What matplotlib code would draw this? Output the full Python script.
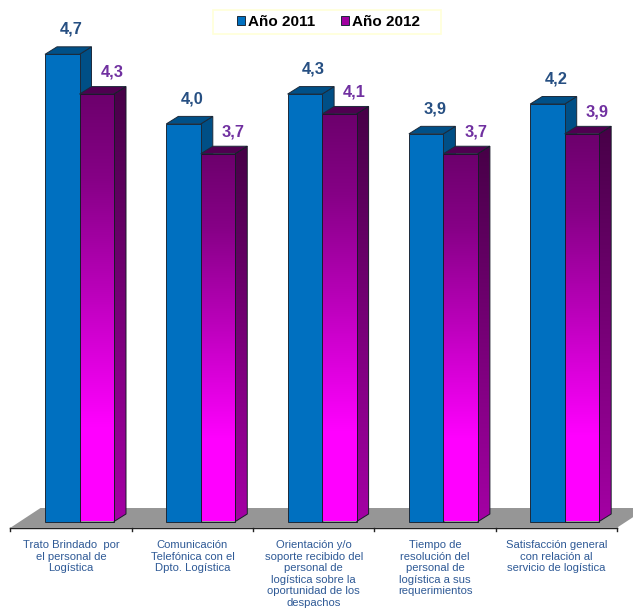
#!/usr/bin/env python3

import numpy as np
import matplotlib.pyplot as plt
from matplotlib.colors import LinearSegmentedColormap
from matplotlib.patches import Patch, Polygon, Rectangle

plt.rcParams['font.family'] = ['Liberation Sans', 'DejaVu Sans']

categories = [
	'Trato Brindado  por\nel personal de\nLogística',
	'Comunicación\nTelefónica con el\nDpto. Logística',
	'Orientación y/o\nsoporte recibido del\npersonal de\nlogística sobre la\noportunidad de los\ndespachos',
	'Tiempo de\nresolución del\npersonal de\nlogística a sus\nrequerimientos',
	'Satisfacción general\ncon relación al\nservicio de logística',
]
anio_2011 = [4.7, 4.0, 4.3, 3.9, 4.2]
anio_2012 = [4.3, 3.7, 4.1, 3.7, 3.9]

W, H = 633, 608
GROUP = 121.3
PX_PER_UNIT = 99.4
BASE = 521.5
LEFT = 10.5

fig = plt.figure(figsize=(W / 100, H / 100), dpi=100)
ax = fig.add_axes([0, 0, 1, 1])
ax.set_xlim(-LEFT / GROUP, (W - LEFT) / GROUP)
ax.set_ylim(-(H - BASE) / PX_PER_UNIT, BASE / PX_PER_UNIT)
ax.axis('off')

# depth of the 3d look, in axis units
DX = 12 / GROUP
DY = 7.5 / PX_PER_UNIT
BAR_W = 34.5 / GROUP
BAR_X0 = 34.5 / GROUP

front_purple = LinearSegmentedColormap.from_list('fp', [(0, '#6c006c'), (0.2, '#860086'), (0.45, '#b800b8'), (0.78, '#ff00ff'), (1, '#ff00ff')])
side_purple = LinearSegmentedColormap.from_list('sp', ['#470047', '#a400a4'])
ramp = np.linspace(0, 1, 256).reshape(-1, 1)

# floor
floor_y0 = -6.2 / PX_PER_UNIT
floor_y1 = 13.5 / PX_PER_UNIT
floor = Polygon([(0, floor_y0), (5, floor_y0), (5 + 30 / GROUP, floor_y1), (30 / GROUP, floor_y1)],
	closed=True, fc='#969696', ec='none', zorder=1)
ax.add_patch(floor)
ax.plot([0, 5], [floor_y0, floor_y0], color='#222222', lw=1, zorder=2)
for t in range(6):
	ax.plot([t, t], [floor_y0, floor_y0 - 3 / PX_PER_UNIT], color='#222222', lw=1, zorder=2)


def gradient_poly(pts, cmap, top, z):
	poly = Polygon(pts, closed=True, fc='none', ec='none', zorder=z)
	ax.add_patch(poly)
	xs = [p[0] for p in pts]
	im = ax.imshow(ramp, cmap=cmap, aspect='auto', zorder=z, interpolation='bilinear',
		extent=(min(xs), max(xs), 0, top), origin='upper')
	im.set_clip_path(poly)
	ax.add_patch(Polygon(pts, closed=True, fc='none', ec='#1a1a2a', lw=0.7, zorder=z + 0.1))


def bar3d(x, v, front, side, roof, z):
	side_pts = [(x + BAR_W, 0), (x + BAR_W + DX, DY), (x + BAR_W + DX, v + DY), (x + BAR_W, v)]
	top_pts = [(x, v), (x + DX, v + DY), (x + BAR_W + DX, v + DY), (x + BAR_W, v)]
	front_pts = [(x, 0), (x + BAR_W, 0), (x + BAR_W, v), (x, v)]
	if isinstance(side, str):
		ax.add_patch(Polygon(side_pts, closed=True, fc=side, ec='#1c2a3a', lw=0.7, zorder=z))
	else:
		gradient_poly(side_pts, side, v + DY, z)
	ax.add_patch(Polygon(top_pts, closed=True, fc=roof, ec='#1c2a3a', lw=0.7, zorder=z))
	if isinstance(front, str):
		ax.add_patch(Polygon(front_pts, closed=True, fc=front, ec='#1c2a3a', lw=0.7, zorder=z + 0.2))
	else:
		gradient_poly(front_pts, front, v, z + 0.2)


for i, (a, b) in enumerate(zip(anio_2011, anio_2012)):
	x0 = i + BAR_X0
	x1 = x0 + BAR_W
	bar3d(x0, a, '#0070c0', '#004f86', '#005088', 3)
	bar3d(x1, b, front_purple, side_purple, '#4f0050', 4)
	ax.text(x0 + 26 / GROUP, a + 25 / PX_PER_UNIT, f'{a:.1f}'.replace('.', ','), ha='center', va='center',
		color='#264f82', fontsize=11.8, fontweight='bold', zorder=6)
	ax.text(x1 + 32.5 / GROUP, b + 22 / PX_PER_UNIT, f'{b:.1f}'.replace('.', ','), ha='center', va='center',
		color='#7030a0', fontsize=11.8, fontweight='bold', zorder=6)
	ax.text(i + 0.5, -18.5 / PX_PER_UNIT, categories[i], ha='center', va='top',
		color='#2f5a96', fontsize=8.1, linespacing=1.2, zorder=6)

# legend frame is wider than the entries need, so it is drawn on its own
ax.add_patch(Rectangle((213 / W, 1 - 34 / H), 228 / W, 24 / H, transform=ax.transAxes,
	fc='white', ec='#ffffd8', lw=1.2, zorder=7))
handles = [Patch(fc='#0070c0', ec='#1c2a3a', lw=0.7, label='Año 2011'),
	Patch(fc='#a000a0', ec='#1c2a3a', lw=0.7, label='Año 2012')]
leg = ax.legend(handles=handles, ncol=2, loc='center', bbox_to_anchor=(328.5 / W, 1 - 22 / H),
	frameon=False, prop={'weight': 'bold', 'size': 11}, handlelength=0.55, handleheight=0.55,
	handletextpad=0.23, columnspacing=1.63, borderpad=0, borderaxespad=0)
leg.set_zorder(8)

fig.savefig('out.png', dpi=100)
